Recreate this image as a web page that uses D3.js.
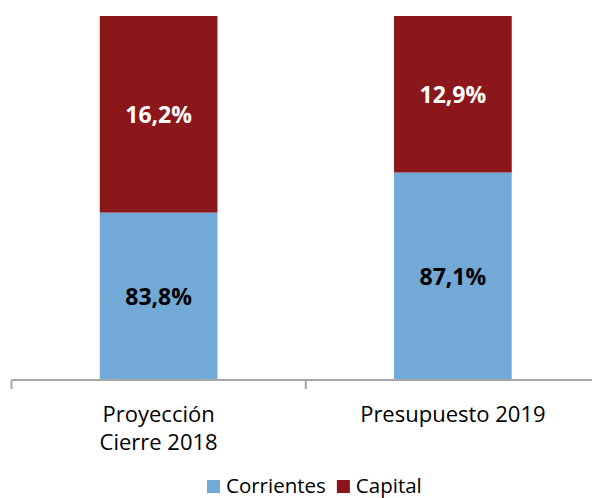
<!DOCTYPE html>
<html>
<head>
<meta charset="utf-8">
<script src="https://cdn.jsdelivr.net/npm/d3@7/dist/d3.min.js"></script>
<style>
    body { margin: 0; background: #fff; }
    svg { display: block; font-family: "Open Sans", sans-serif; }
</style>
</head>
<body>
<div id="chart"></div>
<script>
var categories = [['Proyección', 'Cierre 2018'], ['Presupuesto 2019']],
    corrientes = [83.8, 87.1],
    capital = [16.2, 12.9],
    series = ['Corrientes', 'Capital'],
    colors = ['#72a9d6', '#8b171b'],
    yDomain = [70, 100];

(function()
{
    var width = 592, height = 498,
        left = 11.5, right = 600, top = 16, bottom = 380;

    var rows = categories.map(function(c, i)
    {
        return { key : i, Corrientes : corrientes[i], Capital : capital[i] };
    });

    var stack = d3.stack().keys(series)(rows);

    var x = d3.scaleBand().domain(d3.range(categories.length)).range([left, right]).padding(0),
        y = d3.scaleLinear().domain(yDomain).range([bottom, top]),
        barW = x.step() * 0.4;

    var svg = d3.select('#chart').append('svg')
        .attr('width', width)
        .attr('height', height);

    svg.append('clipPath').attr('id', 'plot')
        .append('rect')
        .attr('x', 0).attr('y', top)
        .attr('width', width).attr('height', bottom - top);

    var layer = svg.append('g').attr('clip-path', 'url(#plot)')
        .selectAll('g').data(stack).enter().append('g')
        .attr('fill', function(d, i) { return colors[i]; });

    layer.selectAll('rect').data(function(d) { return d; }).enter().append('rect')
        .attr('x', function(d, i) { return x(i) + (x.step() - barW) / 2; })
        .attr('width', barW)
        .attr('y', function(d) { return y(d[1]); })
        .attr('height', function(d) { return y(Math.max(d[0], yDomain[0])) - y(d[1]); });

    // data labels
    stack.forEach(function(s, si)
    {
        svg.append('g').selectAll('text').data(s).enter().append('text')
            .attr('x', function(d, i) { return x(i) + x.step() / 2; })
            .attr('y', function(d) { return (y(Math.max(d[0], yDomain[0])) + y(d[1])) / 2; })
            .attr('dy', '0.36em')
            .attr('text-anchor', 'middle')
            .attr('font-size', 23)
            .attr('font-weight', 'bold')
            .attr('fill', si === 0 ? '#000' : '#fff')
            .text(function(d) { return (d[1] - d[0]).toFixed(1).replace('.', ',') + '%'; });
    });

    // axis line with ticks between categories
    var axis = svg.append('g').attr('stroke', '#a6a6a6').attr('stroke-width', 2);
    axis.append('line')
        .attr('x1', left).attr('x2', right)
        .attr('y1', bottom).attr('y2', bottom);
    axis.selectAll('line.tick').data(d3.range(categories.length + 1)).enter().append('line')
        .attr('class', 'tick')
        .attr('x1', function(d) { return left + d * x.step(); })
        .attr('x2', function(d) { return left + d * x.step(); })
        .attr('y1', bottom).attr('y2', bottom + 9);

    var lab = svg.append('g').selectAll('text').data(categories).enter().append('text')
        .attr('text-anchor', 'middle')
        .attr('font-size', 22)
        .attr('fill', '#000');

    lab.selectAll('tspan').data(function(d, i)
    {
        return d.map(function(t) { return { t : t, i : i }; });
    }).enter().append('tspan')
        .attr('x', function(d) { return x(d.i) + x.step() / 2; })
        .attr('y', function(d, j) { return 422 + j * 28; })
        .text(function(d) { return d.t; });

    // legend
    var legend = svg.append('g'),
        lx = 207;
    series.forEach(function(name, i)
    {
        legend.append('rect')
            .attr('x', lx).attr('y', 480)
            .attr('width', 13).attr('height', 13)
            .attr('fill', colors[i]);
        var t = legend.append('text')
            .attr('x', lx + 19).attr('y', 493)
            .attr('font-size', 20.5)
            .text(name);
        lx += 19 + t.node().getComputedTextLength() + 11;
    });
})();
</script>
</body>
</html>
